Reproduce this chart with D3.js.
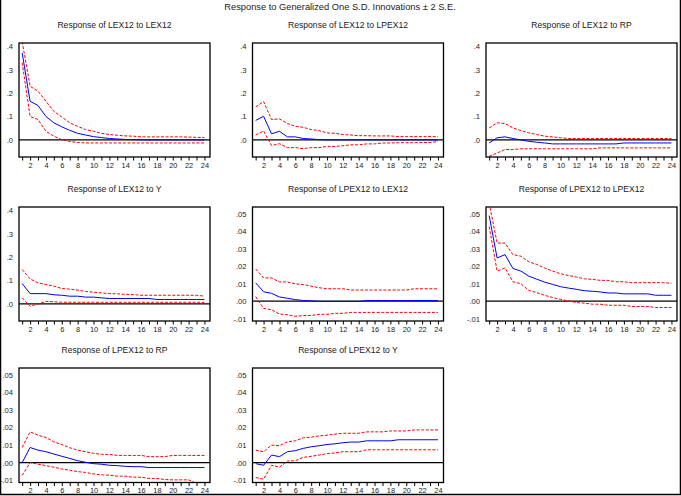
<!DOCTYPE html>
<html><head><meta charset="utf-8">
<script src="https://cdn.jsdelivr.net/npm/d3@7"></script>
<style>body{margin:0;background:#fff}svg{display:block}text{font-family:"Liberation Sans",Arial,sans-serif;fill:#222}</style>
</head><body>
<script>
const periods = d3.range(1, 25);
const xTickLabels = [2,4,6,8,10,12,14,16,18,20,22,24];
const ticksLEX = [0, 0.1, 0.2, 0.3, 0.4];
const tickLabelsLEX = [".0", ".1", ".2", ".3", ".4"];
const ticksLPEX = [-0.01, 0, 0.01, 0.02, 0.03, 0.04, 0.05];
const tickLabelsLPEX = ["-.01", ".00", ".01", ".02", ".03", ".04", ".05"];
const mainTitle = "Response to Generalized One S.D. Innovations \u00b1 2 S.E.";
const panelTitles = ["Response of LEX12 to LEX12","Response of LEX12 to LPEX12","Response of LEX12 to RP",
  "Response of LEX12 to Y","Response of LPEX12 to LEX12","Response of LPEX12 to LPEX12",
  "Response of LPEX12 to RP","Response of LPEX12 to Y"];

// Panel 1: LEX12 to LEX12
const p1Mid = [0.372,0.165,0.147,0.100,0.073,0.056,0.041,0.028,0.021,0.014,0.010,0.006,0.004,0.002,0.001,0.0005,0,0,0,0,0,0,0,0];
const p1Up  = [0.420,0.229,0.208,0.165,0.122,0.098,0.073,0.058,0.044,0.037,0.028,0.023,0.020,0.017,0.016,0.013,0.013,0.013,0.013,0.013,0.013,0.012,0.011,0.010];
const p1Lo  = [0.330,0.100,0.087,0.037,0.016,0.001,-0.007,-0.011,-0.013,-0.013,-0.013,-0.013,-0.013,-0.013,-0.013,-0.013,-0.013,-0.013,-0.013,-0.013,-0.013,-0.013,-0.013,-0.013];
// Panel 2: LEX12 to LPEX12
const p2Mid = [0.083,0.101,0.026,0.037,0.013,0.013,0.006,0.004,0.001,0,0,0,0,0,0,0,0,0,0,0,0,0,0,0];
const p2Up  = [0.141,0.164,0.087,0.090,0.070,0.058,0.054,0.044,0.040,0.030,0.028,0.023,0.021,0.018,0.018,0.017,0.017,0.017,0.014,0.014,0.014,0.014,0.014,0.014];
const p2Lo  = [0.021,0.038,-0.024,-0.016,-0.033,-0.033,-0.037,-0.033,-0.033,-0.028,-0.028,-0.025,-0.021,-0.021,-0.017,-0.017,-0.013,-0.013,-0.012,-0.012,-0.012,-0.011,-0.011,-0.007];
// Panel 3: LEX12 to RP
const p3Mid = [-0.013,0.009,0.013,0.006,0.000,-0.006,-0.010,-0.013,-0.017,-0.017,-0.017,-0.017,-0.017,-0.017,-0.017,-0.017,-0.017,-0.013,-0.013,-0.013,-0.013,-0.013,-0.013,-0.013];
const p3Up  = [0.051,0.073,0.070,0.051,0.040,0.030,0.023,0.016,0.013,0.009,0.006,0.006,0.006,0.006,0.006,0.006,0.006,0.006,0.006,0.006,0.006,0.006,0.006,0.006];
const p3Lo  = [-0.070,-0.056,-0.041,-0.041,-0.038,-0.038,-0.038,-0.038,-0.038,-0.038,-0.038,-0.038,-0.038,-0.038,-0.034,-0.034,-0.034,-0.034,-0.034,-0.034,-0.034,-0.034,-0.034,-0.034];
// Panel 4: LEX12 to Y
const p4Mid = [0.087,0.044,0.044,0.044,0.039,0.037,0.033,0.033,0.029,0.029,0.026,0.023,0.023,0.023,0.023,0.023,0.023,0.019,0.019,0.019,0.019,0.019,0.019,0.019];
const p4Up  = [0.147,0.107,0.090,0.083,0.076,0.066,0.063,0.059,0.053,0.050,0.047,0.044,0.043,0.041,0.040,0.037,0.037,0.037,0.037,0.037,0.037,0.037,0.037,0.033];
const p4Lo  = [0.026,-0.010,0.000,0.011,0.009,0.007,0.007,0.007,0.007,0.007,0.007,0.007,0.007,0.007,0.007,0.007,0.007,0.007,0.007,0.007,0.007,0.007,0.007,0.007];
// Panel 5: LPEX12 to LEX12
const p5Mid = [0.0105,0.0054,0.0045,0.0024,0.0017,0.0009,0.0004,0.0002,-0.0001,-0.0001,-0.0001,-0.0001,-0.0001,-0.0001,0.0004,0.0004,0.0004,0.0004,0.0004,0.0004,0.0004,0.0004,0.0004,0.0004];
const p5Up  = [0.0184,0.0133,0.0133,0.0110,0.0110,0.0099,0.0095,0.0086,0.0077,0.0071,0.0071,0.0071,0.0064,0.0064,0.0064,0.0064,0.0064,0.0064,0.0064,0.0064,0.0071,0.0071,0.0071,0.0071];
const p5Lo  = [0.0026,-0.0041,-0.0049,-0.0073,-0.0077,-0.0086,-0.0082,-0.0081,-0.0075,-0.0075,-0.0069,-0.0069,-0.0064,-0.0064,-0.0064,-0.0064,-0.0064,-0.0064,-0.0064,-0.0064,-0.0064,-0.0064,-0.0064,-0.0064];
// Panel 6: LPEX12 to LPEX12
const p6Mid = [0.0489,0.0247,0.0266,0.0187,0.0172,0.0143,0.0126,0.0109,0.0096,0.0083,0.0075,0.0068,0.0060,0.0057,0.0053,0.0047,0.0047,0.0042,0.0042,0.0042,0.0042,0.0034,0.0034,0.0034];
const p6Up  = [0.0560,0.0332,0.0332,0.0266,0.0257,0.0225,0.0210,0.0190,0.0172,0.0157,0.0147,0.0138,0.0128,0.0125,0.0119,0.0119,0.0111,0.0111,0.0106,0.0106,0.0106,0.0106,0.0106,0.0102];
const p6Lo  = [0.0426,0.0172,0.0190,0.0111,0.0100,0.0062,0.0049,0.0034,0.0021,0.0011,0.0002,-0.0008,-0.0011,-0.0017,-0.0017,-0.0023,-0.0023,-0.0023,-0.0030,-0.0030,-0.0030,-0.0036,-0.0036,-0.0036];
// Panel 7: LPEX12 to RP
const p7Mid = [0.0000,0.0086,0.0071,0.0062,0.0049,0.0036,0.0024,0.0011,0.0002,-0.0006,-0.0009,-0.0015,-0.0017,-0.0021,-0.0023,-0.0023,-0.0028,-0.0028,-0.0028,-0.0028,-0.0028,-0.0028,-0.0028,-0.0028];
const p7Up  = [0.0086,0.0175,0.0156,0.0143,0.0118,0.0103,0.0085,0.0071,0.0062,0.0053,0.0047,0.0047,0.0041,0.0041,0.0041,0.0041,0.0034,0.0034,0.0034,0.0041,0.0041,0.0041,0.0041,0.0041];
const p7Lo  = [-0.0073,0.0000,-0.0009,-0.0017,-0.0026,-0.0036,-0.0043,-0.0051,-0.0056,-0.0064,-0.0070,-0.0071,-0.0077,-0.0077,-0.0083,-0.0083,-0.0090,-0.0090,-0.0096,-0.0098,-0.0098,-0.0098,-0.0118,-0.0120];
// Panel 8: LPEX12 to Y
const p8Mid = [-0.0006,-0.0015,0.0043,0.0034,0.0062,0.0068,0.0081,0.0090,0.0096,0.0103,0.0107,0.0113,0.0117,0.0117,0.0124,0.0124,0.0124,0.0124,0.0130,0.0130,0.0130,0.0130,0.0130,0.0130];
const p8Up  = [0.0071,0.0062,0.0100,0.0096,0.0118,0.0124,0.0141,0.0145,0.0152,0.0156,0.0162,0.0167,0.0167,0.0167,0.0175,0.0175,0.0175,0.0180,0.0180,0.0180,0.0186,0.0186,0.0186,0.0186];
const p8Lo  = [-0.0085,-0.0094,-0.0015,-0.0026,0.0009,0.0011,0.0030,0.0036,0.0043,0.0051,0.0055,0.0062,0.0062,0.0062,0.0073,0.0073,0.0073,0.0073,0.0073,0.0073,0.0073,0.0073,0.0073,0.0073];

const panels = [
  {mid:p1Mid, up:p1Up, lo:p1Lo, kind:"LEX"},
  {mid:p2Mid, up:p2Up, lo:p2Lo, kind:"LEX"},
  {mid:p3Mid, up:p3Up, lo:p3Lo, kind:"LEX"},
  {mid:p4Mid, up:p4Up, lo:p4Lo, kind:"LEX"},
  {mid:p5Mid, up:p5Up, lo:p5Lo, kind:"LPEX"},
  {mid:p6Mid, up:p6Up, lo:p6Lo, kind:"LPEX"},
  {mid:p7Mid, up:p7Up, lo:p7Lo, kind:"LPEX"},
  {mid:p8Mid, up:p8Up, lo:p8Lo, kind:"LPEX"}
];

const W = 681, H = 496;
const svg = d3.select("body").append("svg").attr("width", W).attr("height", H);
svg.append("rect").attr("width", W).attr("height", H).attr("fill", "#fff");
// outer frame
svg.append("path").attr("d", `M0.5,0 V${H-1.5} H${W-0.5} V0`).attr("fill","none").attr("stroke","#000").attr("stroke-width",1.5);

svg.append("text").attr("x", 340).attr("y", 9.5).attr("text-anchor","middle").attr("font-size", 9.3).text(mainTitle);

const colX = [19, 252.5, 486];
const rowY = [43, 207, 368];
const rowH = [114, 114, 114.5];
const boxW = 191;

panels.forEach((p, i) => {
  const c = i % 3, r = Math.floor(i / 3);
  const x0 = colX[c], y0 = rowY[r], h = rowH[r];
  const g = svg.append("g").attr("transform", `translate(${x0},${y0})`);
  const x = d3.scaleLinear().domain([0.6, 24.7]).range([0, boxW]);
  const y = p.kind === "LEX"
    ? d3.scaleLinear().domain([-0.073, 0.414]).range([h, 0])
    : d3.scaleLinear().domain([-0.0113, 0.0538]).range([h, 0]);
  const ticks = p.kind === "LEX" ? ticksLEX : ticksLPEX;
  const labels = p.kind === "LEX" ? tickLabelsLEX : tickLabelsLPEX;

  const clipId = "clip" + i;
  g.append("clipPath").attr("id", clipId).append("rect").attr("width", boxW).attr("height", h);

  // title
  svg.append("text").attr("x", x0 + boxW/2).attr("y", y0 - 15).attr("text-anchor","middle")
    .attr("font-size", 8.6).text(panelTitles[i]);

  // y axis labels
  const ya = d3.axisLeft(y).tickValues(ticks).tickSize(0).tickPadding(6)
    .tickFormat((d, k) => labels[k]);
  const yg = g.append("g").call(ya);
  yg.select(".domain").remove();
  yg.selectAll("text").attr("font-size", 7.6).attr("font-family", '"Liberation Sans",Arial,sans-serif').attr("fill","#222");

  // x axis
  const xa = d3.axisBottom(x).tickValues(periods).tickSize(3.5).tickPadding(2)
    .tickFormat(d => xTickLabels.includes(d) ? d : "");
  const xg = g.append("g").attr("transform", `translate(0,${h})`).call(xa);
  xg.select(".domain").remove();
  xg.selectAll("line").attr("stroke","#000");
  xg.selectAll("text").attr("font-size", 7.4).attr("font-family", '"Liberation Sans",Arial,sans-serif').attr("fill","#222");

  const plot = g.append("g").attr("clip-path", `url(#${clipId})`);
  // zero line
  plot.append("line").attr("x1", 0).attr("x2", boxW).attr("y1", y(0)).attr("y2", y(0))
    .attr("stroke", "#000").attr("stroke-width", 1.2);

  const line = d3.line().x((d, k) => x(periods[k])).y(d => y(d));
  plot.append("path").datum(p.up).attr("d", line).attr("fill","none")
    .attr("stroke","#ff0000").attr("stroke-width",1).attr("stroke-dasharray","3,1.6");
  plot.append("path").datum(p.lo).attr("d", line).attr("fill","none")
    .attr("stroke","#ff0000").attr("stroke-width",1).attr("stroke-dasharray","3,1.6");
  plot.append("path").datum(p.mid).attr("d", line).attr("fill","none")
    .attr("stroke","#0000ff").attr("stroke-width",1);

  // box
  g.append("rect").attr("x",0).attr("y",0).attr("width",boxW).attr("height",h)
    .attr("fill","none").attr("stroke","#000").attr("stroke-width",1.3);
});
</script>
</body></html>
